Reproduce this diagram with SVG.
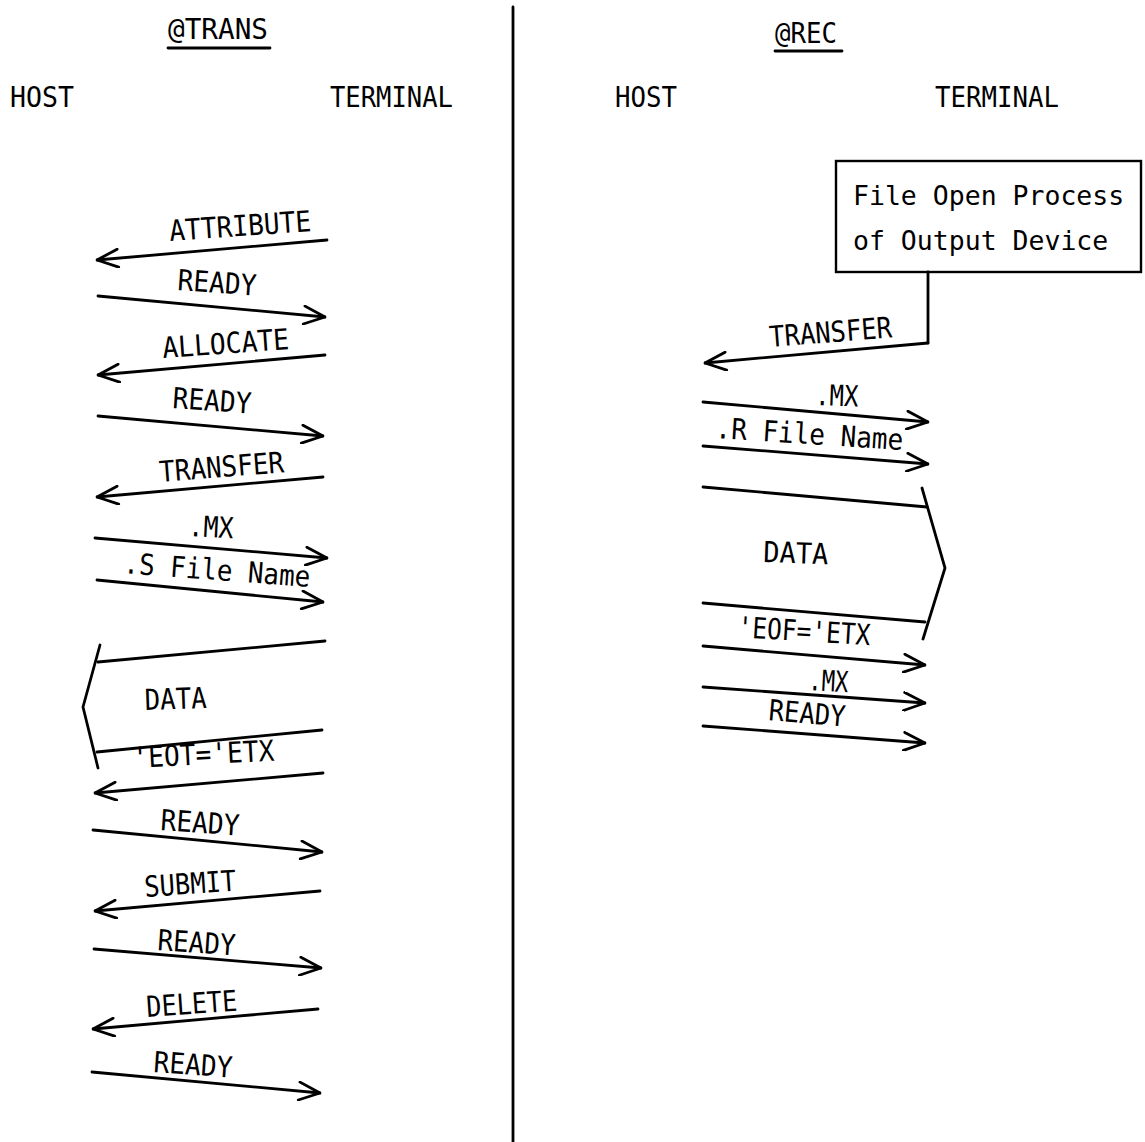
<svg xmlns="http://www.w3.org/2000/svg" width="1145" height="1142" viewBox="0 0 1145 1142">
<style>
text{font-family:"DejaVu Sans Mono","Liberation Mono",monospace;font-size:29px;fill:#000}
.bx{font-size:26.5px}
.ln{stroke:#000;stroke-width:2.8;fill:none;stroke-linecap:round;stroke-linejoin:round}
.ar{stroke:#000;stroke-width:2.8;fill:none;marker-end:url(#arr);stroke-linecap:round}
</style>
<defs>
<marker id="arr" viewBox="0 0 24 20" refX="23" refY="10" markerWidth="24" markerHeight="20" orient="auto" markerUnits="userSpaceOnUse">
<path d="M2,1 L23,10 L2,19" fill="none" stroke="#000" stroke-width="2.8" stroke-linecap="round" stroke-linejoin="round"/>
</marker>
</defs>
<rect width="1145" height="1142" fill="#fff"/>
<line class="ln" x1="513" y1="7" x2="513" y2="1142" stroke-width="3"/>
<g id="hdr-trans"><text x="168" y="39" textLength="100" lengthAdjust="spacingAndGlyphs">@TRANS</text><line class="ln" x1="168" y1="48" x2="270" y2="48" stroke-width="2"/></g>
<g id="hdr-rec"><text x="775" y="43" textLength="62" lengthAdjust="spacingAndGlyphs">@REC</text><line class="ln" x1="775" y1="51" x2="842" y2="51" stroke-width="2"/></g>
<g id="host-l"><text x="10" y="107" textLength="64" lengthAdjust="spacingAndGlyphs">HOST</text></g>
<g id="term-l"><text x="330" y="107" textLength="123" lengthAdjust="spacingAndGlyphs">TERMINAL</text></g>
<g id="host-r"><text x="615" y="107" textLength="62" lengthAdjust="spacingAndGlyphs">HOST</text></g>
<g id="term-r"><text x="935" y="107" textLength="124" lengthAdjust="spacingAndGlyphs">TERMINAL</text></g>
<g id="box">
<rect x="836" y="161" width="305" height="111" fill="none" stroke="#000" stroke-width="2.4"/>
<text class="bx" x="853" y="205">File Open Process</text>
<text class="bx" x="853" y="250">of Output Device</text>
</g>
<g id="connectors">
<line class="ar" x1="327" y1="240" x2="97" y2="260"/>
<line class="ar" x1="98" y1="296" x2="325" y2="317"/>
<line class="ar" x1="325" y1="355" x2="98" y2="375"/>
<line class="ar" x1="98" y1="416" x2="323" y2="436"/>
<line class="ar" x1="323" y1="477" x2="97" y2="497"/>
<line class="ar" x1="95" y1="538" x2="327" y2="558"/>
<line class="ar" x1="97" y1="580" x2="323" y2="602"/>
<polyline class="ln" points="325,641 98,662"/>
<polyline class="ln" points="100,645 83,707 98,768"/>
<polyline class="ln" points="322,730 97,752"/>
<line class="ar" x1="323" y1="773" x2="95" y2="793"/>
<line class="ar" x1="93" y1="830" x2="322" y2="852"/>
<line class="ar" x1="320" y1="891" x2="95" y2="911"/>
<line class="ar" x1="94" y1="949" x2="321" y2="968"/>
<line class="ar" x1="318" y1="1009" x2="93" y2="1029"/>
<line class="ar" x1="92" y1="1072" x2="320" y2="1093"/>
<polyline class="ln" points="928,272 928,343"/>
<line class="ar" x1="928" y1="343" x2="705" y2="363"/>
<line class="ar" x1="703" y1="402" x2="928" y2="422"/>
<line class="ar" x1="703" y1="446" x2="928" y2="464"/>
<polyline class="ln" points="703,487 927,507"/>
<polyline class="ln" points="922,488 945,568 923,639"/>
<polyline class="ln" points="703,603 925,622"/>
<line class="ar" x1="703" y1="646" x2="925" y2="665"/>
<line class="ar" x1="703" y1="687" x2="925" y2="703"/>
<line class="ar" x1="703" y1="726" x2="925" y2="743"/>
</g>
<g id="labels">
<text x="170" y="241" transform="rotate(-4 170 241)" textLength="142" lengthAdjust="spacingAndGlyphs">ATTRIBUTE</text>
<text x="177" y="290" transform="rotate(4 177 290)" textLength="79" lengthAdjust="spacingAndGlyphs">READY</text>
<text x="163" y="358" transform="rotate(-4 163 358)" textLength="127" lengthAdjust="spacingAndGlyphs">ALLOCATE</text>
<text x="172" y="408" transform="rotate(4 172 408)" textLength="79" lengthAdjust="spacingAndGlyphs">READY</text>
<text x="160" y="482" transform="rotate(-4.5 160 482)" textLength="125" lengthAdjust="spacingAndGlyphs">TRANSFER</text>
<text x="188" y="536" transform="rotate(3 188 536)" textLength="45" lengthAdjust="spacingAndGlyphs">.MX</text>
<text x="123" y="573" transform="rotate(4.3 123 573)" textLength="187" lengthAdjust="spacingAndGlyphs">.S File Name</text>
<text x="145" y="710" transform="rotate(-2 145 710)" textLength="62" lengthAdjust="spacingAndGlyphs">DATA</text>
<text x="133" y="768" transform="rotate(-3 133 768)" textLength="142" lengthAdjust="spacingAndGlyphs">'EOT='ETX</text>
<text x="160" y="830" transform="rotate(4 160 830)" textLength="79" lengthAdjust="spacingAndGlyphs">READY</text>
<text x="145" y="897" transform="rotate(-4 145 897)" textLength="92" lengthAdjust="spacingAndGlyphs">SUBMIT</text>
<text x="157" y="950" transform="rotate(4 157 950)" textLength="78" lengthAdjust="spacingAndGlyphs">READY</text>
<text x="147" y="1017" transform="rotate(-4 147 1017)" textLength="91" lengthAdjust="spacingAndGlyphs">DELETE</text>
<text x="153" y="1072" transform="rotate(4 153 1072)" textLength="79" lengthAdjust="spacingAndGlyphs">READY</text>
<text x="770" y="347" transform="rotate(-4.5 770 347)" textLength="123" lengthAdjust="spacingAndGlyphs">TRANSFER</text>
<text x="815" y="405" transform="rotate(2 815 405)" textLength="43" lengthAdjust="spacingAndGlyphs">.MX</text>
<text x="715" y="438" transform="rotate(3.7 715 438)" textLength="188" lengthAdjust="spacingAndGlyphs">.R File Name</text>
<text x="763" y="562" transform="rotate(2 763 562)" textLength="65" lengthAdjust="spacingAndGlyphs">DATA</text>
<text x="737" y="637" transform="rotate(3.5 737 637)" textLength="133" lengthAdjust="spacingAndGlyphs">'EOF='ETX</text>
<text x="808" y="690" transform="rotate(3 808 690)" textLength="40" lengthAdjust="spacingAndGlyphs">.MX</text>
<text x="768" y="720" transform="rotate(5 768 720)" textLength="77" lengthAdjust="spacingAndGlyphs">READY</text>
</g>
</svg>
